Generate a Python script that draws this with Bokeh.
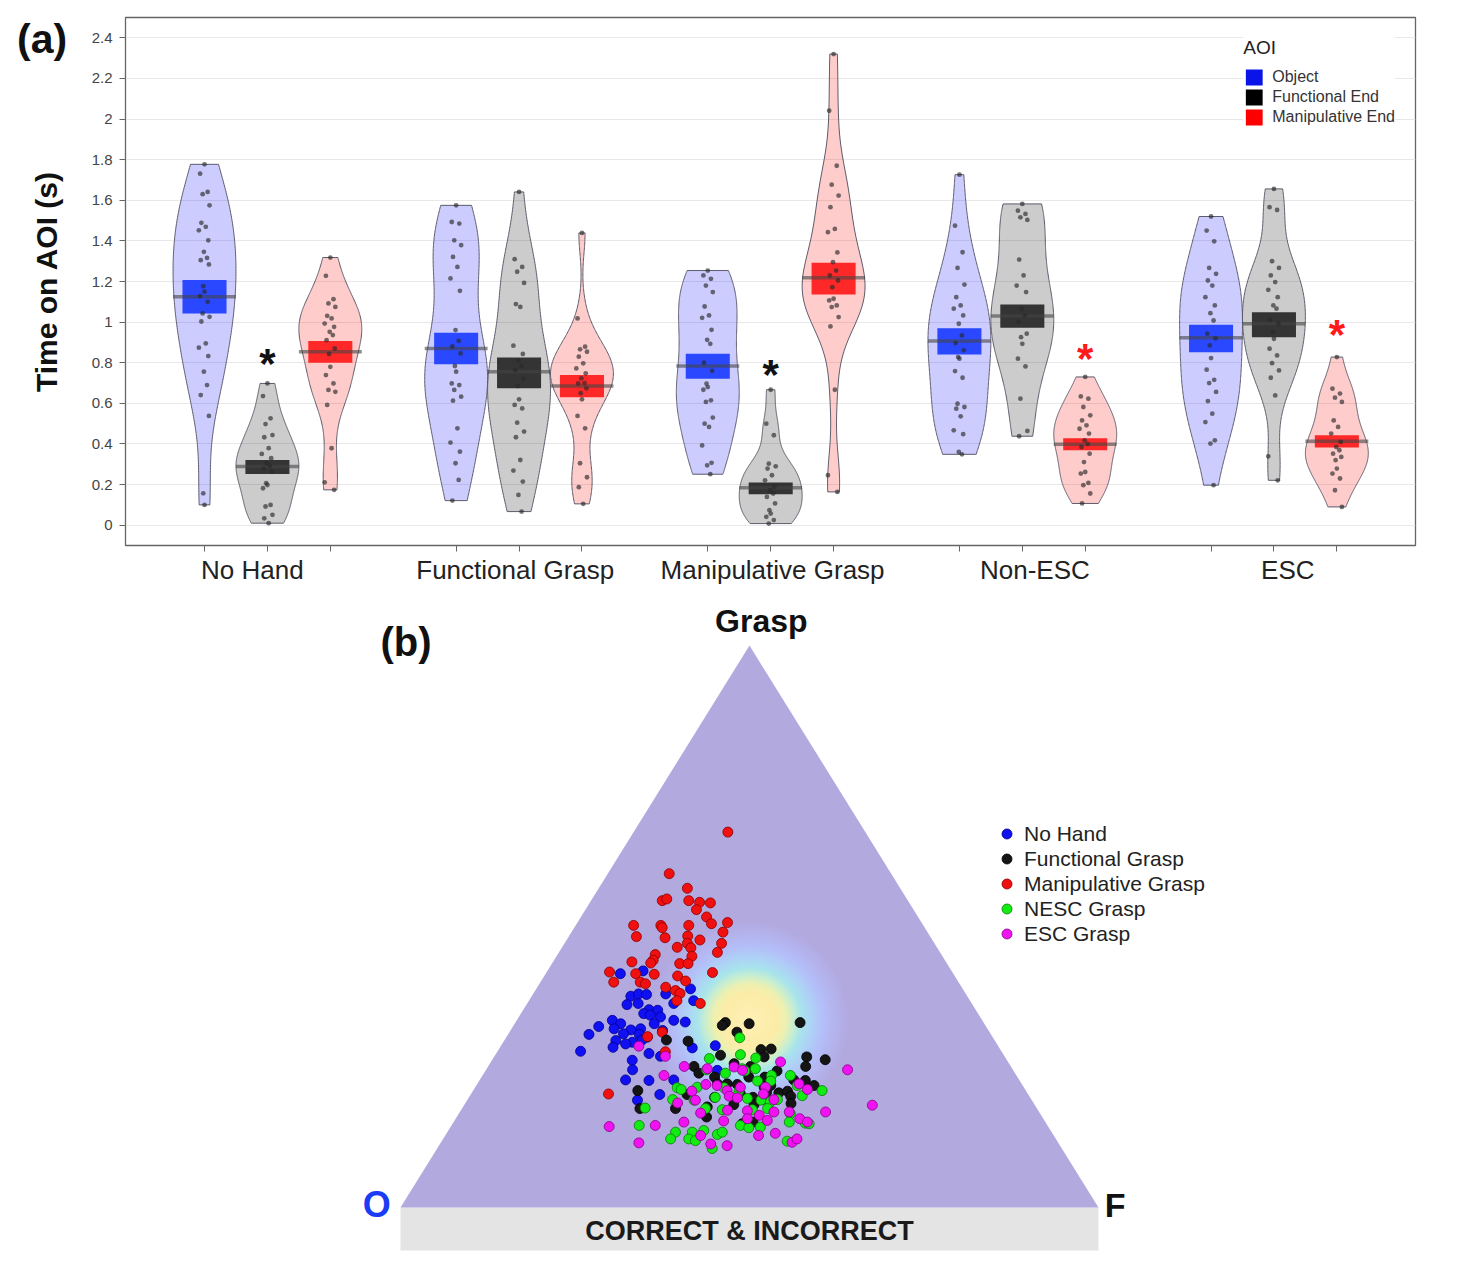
import numpy as np
from bokeh.plotting import figure
from bokeh.models import (Range1d, FixedTicker, CustomJSTickFormatter, Legend, LegendItem, Label, Div)
from bokeh.layouts import column
from bokeh.embed import file_html
from bokeh.resources import INLINE
from bokeh.core.properties import value

FONT = "Liberation Sans"

# ---------------- (a) data ----------------
groups = ["No Hand", "Functional Grasp", "Manipulative Grasp", "Non-ESC", "ESC"]
aois = ["Object", "Functional End", "Manipulative End"]
y_ticks = [0, 0.2, 0.4, 0.6, 0.8, 1.0, 1.2, 1.4, 1.6, 1.8, 2.0, 2.2, 2.4]

nohand_object = [1.777, 1.731, 1.641, 1.630, 1.575, 1.489, 1.469, 1.452, 1.403, 1.346, 1.316, 1.305, 1.284,
                 1.177, 1.150, 1.128, 1.100, 1.043, 1.026, 1.003, 0.895, 0.874, 0.833, 0.756, 0.690, 0.641,
                 0.538, 0.157, 0.100]
nohand_functional = [0.698, 0.636, 0.526, 0.498, 0.444, 0.433, 0.379, 0.351, 0.330, 0.305, 0.292, 0.280,
                     0.264, 0.207, 0.198, 0.182, 0.100, 0.092, 0.051, 0.034, 0.010]
nohand_manipulative = [1.318, 1.228, 1.113, 1.092, 1.075, 1.031, 1.018, 0.993, 0.977, 0.952, 0.936, 0.911,
                       0.870, 0.843, 0.780, 0.739, 0.698, 0.666, 0.657, 0.592, 0.379, 0.211, 0.174]
fgrasp_object = [1.575, 1.493, 1.485, 1.403, 1.379, 1.321, 1.272, 1.215, 1.154, 0.961, 0.908, 0.880, 0.846,
                 0.784, 0.756, 0.698, 0.690, 0.666, 0.633, 0.613, 0.477, 0.407, 0.362, 0.305, 0.223, 0.121]
fgrasp_functional = [1.641, 1.310, 1.272, 1.248, 1.193, 1.089, 1.075, 0.884, 0.843, 0.810, 0.784, 0.764,
                     0.720, 0.685, 0.620, 0.592, 0.575, 0.505, 0.461, 0.433, 0.321, 0.269, 0.215, 0.149, 0.067]
fgrasp_manipulative = [1.439, 1.018, 0.879, 0.866, 0.854, 0.830, 0.797, 0.772, 0.748, 0.723, 0.700, 0.698,
                       0.674, 0.650, 0.620, 0.538, 0.477, 0.305, 0.236, 0.187, 0.105]
mgrasp_object = [1.254, 1.230, 1.213, 1.180, 1.148, 1.077, 1.033, 1.021, 0.962, 0.913, 0.893, 0.800, 0.760,
                 0.697, 0.680, 0.667, 0.615, 0.607, 0.530, 0.500, 0.484, 0.393, 0.307, 0.295, 0.251]
mgrasp_functional = [0.667, 0.500, 0.443, 0.303, 0.290, 0.279, 0.246, 0.221, 0.189, 0.172, 0.156, 0.139,
                     0.107, 0.074, 0.057, 0.041, 0.025, 0.008]
mgrasp_manipulative = [2.320, 2.041, 1.770, 1.677, 1.623, 1.566, 1.459, 1.443, 1.343, 1.295, 1.254, 1.230,
                       1.205, 1.172, 1.115, 1.107, 1.082, 1.074, 1.025, 0.979, 0.667, 0.246, 0.164]
nonesc_object = [1.726, 1.475, 1.344, 1.267, 1.185, 1.123, 1.082, 1.066, 1.033, 0.992, 0.934, 0.897, 0.861,
                 0.828, 0.820, 0.759, 0.726, 0.598, 0.582, 0.574, 0.536, 0.467, 0.448, 0.361, 0.349]
nonesc_functional = [1.582, 1.549, 1.533, 1.516, 1.503, 1.308, 1.230, 1.180, 1.148, 1.066, 1.033, 1.000,
                     0.943, 0.926, 0.893, 0.820, 0.782, 0.623, 0.464, 0.438]
nonesc_manipulative = [0.730, 0.634, 0.623, 0.582, 0.541, 0.516, 0.492, 0.475, 0.451, 0.418, 0.400, 0.385,
                       0.352, 0.311, 0.262, 0.254, 0.208, 0.197, 0.156, 0.107]
esc_object = [1.520, 1.451, 1.398, 1.267, 1.238, 1.205, 1.180, 1.123, 1.082, 1.044, 1.008, 0.943, 0.920,
              0.885, 0.823, 0.766, 0.716, 0.700, 0.656, 0.611, 0.549, 0.508, 0.418, 0.402, 0.197]
esc_functional = [1.656, 1.566, 1.552, 1.300, 1.267, 1.230, 1.197, 1.159, 1.123, 1.082, 1.066, 1.011, 0.992,
                  0.951, 0.918, 0.869, 0.836, 0.798, 0.762, 0.726, 0.639, 0.339, 0.221]
esc_manipulative = [0.828, 0.672, 0.648, 0.628, 0.607, 0.516, 0.484, 0.451, 0.410, 0.385, 0.369, 0.352, 0.336,
                    0.320, 0.279, 0.254, 0.230, 0.172, 0.090]

times = [
    [nohand_object, nohand_functional, nohand_manipulative],
    [fgrasp_object, fgrasp_functional, fgrasp_manipulative],
    [mgrasp_object, mgrasp_functional, mgrasp_manipulative],
    [nonesc_object, nonesc_functional, nonesc_manipulative],
    [esc_object, esc_functional, esc_manipulative],
]

mean_time = [[1.125, 0.289, 0.854], [0.870, 0.756, 0.685], [0.784, 0.184, 1.218],
             [0.907, 1.030, 0.398], [0.923, 0.992, 0.413]]
se_low = [[1.043, 0.252, 0.800], [0.793, 0.674, 0.630], [0.721, 0.152, 1.136],
          [0.841, 0.972, 0.369], [0.852, 0.926, 0.382]]
se_high = [[1.207, 0.321, 0.907], [0.948, 0.826, 0.739], [0.844, 0.210, 1.292],
           [0.970, 1.087, 0.428], [0.987, 1.049, 0.443]]

star_group = ["No Hand", "Manipulative Grasp", "Non-ESC", "ESC"]
star_aoi = ["Functional End", "Functional End", "Manipulative End", "Manipulative End"]
star_level = [0.826, 0.772, 0.851, 0.969]
star_color = ["#111111", "#111111", "#ff1a1a", "#ff1a1a"]

# ---------------- (b) data: shares of Functional End (F) and Grasp (G) ----------------
tern_groups = ["No Hand", "Functional Grasp", "Manipulative Grasp", "NESC Grasp", "ESC Grasp"]
nohand_F = [0.107, 0.137, 0.221, 0.190, 0.142, 0.151, 0.163, 0.210, 0.236, 0.144, 0.159, 0.180, 0.193, 0.176,
            0.187, 0.203, 0.225, 0.243, 0.137, 0.152, 0.123, 0.147, 0.172, 0.185, 0.200, 0.165, 0.188, 0.202,
            0.218, 0.116, 0.160, 0.185, 0.197, 0.177, 0.119, 0.162, 0.219, 0.238, 0.276, 0.307, 0.201, 0.210,
            0.209, 0.243, 0.278, 0.271, 0.244, 0.332]
nohand_G = [0.416, 0.421, 0.389, 0.380, 0.376, 0.380, 0.379, 0.363, 0.368, 0.361, 0.363, 0.352, 0.351, 0.345,
            0.342, 0.339, 0.333, 0.330, 0.333, 0.327, 0.322, 0.318, 0.316, 0.318, 0.327, 0.309, 0.308, 0.303,
            0.315, 0.308, 0.297, 0.294, 0.298, 0.291, 0.278, 0.285, 0.274, 0.269, 0.284, 0.288, 0.262, 0.245,
            0.227, 0.226, 0.227, 0.201, 0.191, 0.244]
functional_F = [0.301, 0.299, 0.336, 0.326, 0.408, 0.232, 0.264, 0.323, 0.376, 0.390, 0.387, 0.448, 0.477,
                0.295, 0.308, 0.334, 0.350, 0.376, 0.406, 0.418, 0.455, 0.344, 0.358, 0.373, 0.383, 0.422,
                0.414, 0.450, 0.467, 0.484, 0.310, 0.352, 0.386, 0.407, 0.422, 0.440, 0.451, 0.460, 0.236,
                0.255, 0.306, 0.350, 0.386, 0.415, 0.422, 0.467, 0.358, 0.415, 0.429]
functional_G = [0.329, 0.324, 0.327, 0.312, 0.329, 0.298, 0.296, 0.271, 0.281, 0.282, 0.268, 0.268, 0.263,
                0.251, 0.239, 0.232, 0.256, 0.251, 0.232, 0.243, 0.251, 0.220, 0.220, 0.219, 0.232, 0.217,
                0.214, 0.227, 0.226, 0.217, 0.201, 0.196, 0.202, 0.196, 0.205, 0.204, 0.207, 0.198, 0.208,
                0.176, 0.176, 0.179, 0.183, 0.183, 0.192, 0.185, 0.161, 0.149, 0.152]
manipulative_F = [0.135, 0.088, 0.127, 0.102, 0.107, 0.140, 0.157, 0.173, 0.159, 0.180, 0.193, 0.215, 0.083,
                  0.122, 0.126, 0.162, 0.097, 0.139, 0.170, 0.191, 0.217, 0.176, 0.165, 0.185, 0.225, 0.140,
                  0.194, 0.227, 0.113, 0.142, 0.141, 0.183, 0.195, 0.090, 0.129, 0.156, 0.238, 0.105, 0.143,
                  0.152, 0.191, 0.207, 0.184, 0.201, 0.210, 0.212, 0.248, 0.219, 0.202, 0.241, 0.197]
manipulative_G = [0.668, 0.594, 0.568, 0.546, 0.549, 0.546, 0.543, 0.542, 0.530, 0.517, 0.505, 0.507, 0.502,
                  0.502, 0.498, 0.502, 0.482, 0.480, 0.483, 0.476, 0.490, 0.470, 0.463, 0.462, 0.470, 0.450,
                  0.447, 0.454, 0.437, 0.440, 0.435, 0.434, 0.434, 0.419, 0.416, 0.415, 0.418, 0.401, 0.401,
                  0.398, 0.412, 0.403, 0.392, 0.386, 0.381, 0.368, 0.363, 0.312, 0.304, 0.277, 0.202]
nesc_F = [0.335, 0.351, 0.310, 0.376, 0.366, 0.372, 0.316, 0.346, 0.385, 0.414, 0.441, 0.290, 0.297, 0.318,
          0.357, 0.381, 0.399, 0.418, 0.460, 0.476, 0.500, 0.294, 0.325, 0.353, 0.383, 0.400, 0.421, 0.436,
          0.444, 0.262, 0.349, 0.374, 0.417, 0.438, 0.475, 0.269, 0.327, 0.351, 0.352, 0.366, 0.389, 0.394,
          0.414, 0.428, 0.444, 0.481, 0.505, 0.511, 0.326, 0.363, 0.394, 0.495]
nesc_G = [0.302, 0.272, 0.265, 0.266, 0.247, 0.243, 0.245, 0.239, 0.247, 0.235, 0.235, 0.213, 0.210, 0.214,
          0.213, 0.208, 0.225, 0.225, 0.217, 0.199, 0.208, 0.192, 0.191, 0.196, 0.199, 0.194, 0.191, 0.188,
          0.192, 0.177, 0.176, 0.174, 0.174, 0.176, 0.167, 0.146, 0.134, 0.134, 0.122, 0.137, 0.130, 0.134,
          0.146, 0.142, 0.143, 0.152, 0.150, 0.149, 0.122, 0.119, 0.105, 0.118]
esc_F = [0.198, 0.245, 0.281, 0.316, 0.353, 0.368, 0.415, 0.518, 0.260, 0.328, 0.345, 0.364, 0.380, 0.416,
         0.461, 0.478, 0.314, 0.304, 0.327, 0.372, 0.385, 0.419, 0.439, 0.346, 0.382, 0.411, 0.432, 0.450,
         0.472, 0.524, 0.585, 0.227, 0.292, 0.330, 0.386, 0.418, 0.448, 0.493, 0.507, 0.284, 0.366, 0.388,
         0.413, 0.449, 0.471, 0.503, 0.507]
esc_G = [0.287, 0.269, 0.251, 0.247, 0.250, 0.244, 0.259, 0.245, 0.235, 0.219, 0.217, 0.208, 0.214, 0.214,
         0.220, 0.210, 0.207, 0.186, 0.191, 0.198, 0.195, 0.202, 0.192, 0.168, 0.173, 0.172, 0.164, 0.170,
         0.170, 0.170, 0.182, 0.144, 0.146, 0.152, 0.154, 0.158, 0.155, 0.158, 0.152, 0.115, 0.128, 0.113,
         0.110, 0.128, 0.132, 0.116, 0.122]

# triangle vertices (O, F, Grasp) as shares and the neutral (centroid) point
vertex_F = [0.0, 1.0, 0.0]
vertex_G = [0.0, 0.0, 1.0]
neutral_F, neutral_G = 1 / 3, 1 / 3

# ================= Figure (a) =================
violin_fill = ["#0000ff", "#000000", "#ff0000"]
box_fill = ["#2040ff", "#2b2b2b", "#ff1f1f"]
legend_fill = ["#0a14e8", "#000000", "#ff0000"]
STEP = 4  # slots per group (3 violins + gap)
label_shift = [-0.24, -0.06, 0.03, 0.2, 0.22]  # group label placement relative to the middle violin

def pos(gi, ai):
    return STEP * gi + ai

W = 1465
pA = figure(width=W, height=600, x_range=Range1d(-1.256, 19.25), y_range=Range1d(-0.1, 2.5),
            output_backend="svg", toolbar_location=None, title=None,
            min_border_left=125, min_border_right=W - 1415, min_border_top=17, min_border_bottom=55)
pA.background_fill_color = "white"
pA.outline_line_color = "#666666"
pA.outline_line_width = 1.3
pA.xgrid.visible = False
pA.ygrid.grid_line_color = "#e8e8e8"
pA.ygrid.grid_line_width = 1

def kde_outline(vals, center, half=0.5):
    v = np.asarray(vals, dtype=float)
    n = len(v)
    sd = v.std(ddof=1)
    q75, q25 = np.percentile(v, [75, 25])
    spread = min(sd, (q75 - q25) / 1.34) if q75 > q25 else sd
    bw = 0.9 * spread * n ** -0.2
    ys = np.linspace(v.min(), v.max(), 220)
    d = np.exp(-0.5 * ((ys[:, None] - v[None, :]) / bw) ** 2).sum(axis=1)
    d = d / d.max() * half
    xs = np.concatenate([center - d, (center + d)[::-1]])
    yy = np.concatenate([ys, ys[::-1]])
    return list(xs), list(yy)

jitter = [0.0, -0.07, 0.05, -0.03, 0.08, -0.05, 0.02, -0.09, 0.06, -0.01, 0.04, -0.06, 0.07, -0.02]

for ai in range(3):
    vx, vy = [], []
    for gi in range(len(groups)):
        xs, ys = kde_outline(times[gi][ai], pos(gi, ai))
        vx.append(xs); vy.append(ys)
    pA.patches(vx, vy, fill_color=violin_fill[ai], fill_alpha=0.2, line_color="#5b5b6b", line_width=1)

for ai in range(3):
    cx = [pos(gi, ai) for gi in range(len(groups))]
    pA.quad(left=[c - 0.35 for c in cx], right=[c + 0.35 for c in cx],
            bottom=[se_low[gi][ai] for gi in range(len(groups))],
            top=[se_high[gi][ai] for gi in range(len(groups))],
            fill_color=box_fill[ai], fill_alpha=0.95, line_color=None)
    pA.segment(x0=[c - 0.5 for c in cx], x1=[c + 0.5 for c in cx],
               y0=[mean_time[gi][ai] for gi in range(len(groups))],
               y1=[mean_time[gi][ai] for gi in range(len(groups))],
               line_color="#444444", line_alpha=0.6, line_width=3.5)

px, py = [], []
for gi in range(len(groups)):
    for ai in range(3):
        for k, t in enumerate(times[gi][ai]):
            px.append(pos(gi, ai) + jitter[k % len(jitter)])
            py.append(t)
pA.scatter(px, py, size=4.8, fill_color="#2a2a2a", fill_alpha=0.65, line_color=None)

sx = [pos(groups.index(g), aois.index(a)) for g, a in zip(star_group, star_aoi)]
pA.text(x=sx, y=star_level, text=["*"] * len(sx), text_color=star_color,
        text_font=value(FONT), text_font_size=value("42px"), text_font_style="bold",
        text_align="center", text_baseline="middle", y_offset=6)

# legend swatches (not drawn in the plot area)
nan = float("nan")
leg_items = []
for ai, a in enumerate(aois):
    r = pA.quad(left=[nan], right=[nan], top=[nan], bottom=[nan], fill_color=legend_fill[ai], line_color=None)
    leg_items.append(LegendItem(label=a, renderers=[r]))
legA = Legend(items=leg_items, location="top_right", margin=20, padding=8,
              title="AOI", title_text_font=FONT, title_text_font_size="19px",
              title_text_font_style="normal", title_text_color="#222222", title_standoff=8,
              label_text_font=FONT, label_text_font_size="16px", label_text_color="#333333",
              glyph_width=21, glyph_height=20, label_height=20, spacing=0, label_standoff=8,
              border_line_color=None, background_fill_color="white", background_fill_alpha=1)
pA.add_layout(legA)

all_pos = [pos(gi, ai) for gi in range(len(groups)) for ai in range(3)]
label_pos = [pos(gi, 1) + label_shift[gi] for gi in range(len(groups))]
pA.xaxis.ticker = FixedTicker(ticks=label_pos, minor_ticks=all_pos)
pA.xaxis.formatter = CustomJSTickFormatter(args=dict(names=groups), code="""
    return names[Math.round((tick - 1) / 4)];
""")
pA.xaxis.major_label_text_font = FONT
pA.xaxis.major_label_text_font_size = "26px"
pA.xaxis.major_label_text_color = "#222222"
pA.xaxis.major_label_standoff = 3
pA.xaxis.major_tick_out = 0
pA.xaxis.major_tick_in = 0
pA.xaxis.minor_tick_out = 6
pA.xaxis.minor_tick_in = 0
pA.xaxis.axis_line_color = "#666666"
pA.xaxis.minor_tick_line_color = "#666666"

pA.yaxis.ticker = FixedTicker(ticks=y_ticks)
pA.yaxis.formatter = CustomJSTickFormatter(code="return String(Math.round(tick * 10) / 10);")
pA.yaxis.major_label_text_font = FONT
pA.yaxis.major_label_text_font_size = "15px"
pA.yaxis.major_label_text_color = "#444444"
pA.yaxis.major_label_standoff = 7
pA.yaxis.major_tick_out = 6
pA.yaxis.major_tick_in = 0
pA.yaxis.minor_tick_out = 0
pA.yaxis.axis_line_color = "#666666"
pA.yaxis.major_tick_line_color = "#666666"
pA.yaxis.axis_label = "Time on AOI (s)"
pA.yaxis.axis_label_text_font = FONT
pA.yaxis.axis_label_text_font_size = "30px"
pA.yaxis.axis_label_text_font_style = "bold"
pA.yaxis.axis_label_text_color = "#111111"
pA.yaxis.axis_label_standoff = 26

# panel tag "(a)" sits outside the plot frame, so it is an HTML element laid over the page corner
tag_a = Div(text="(a)", width=60, height=50,
            styles={"position": "absolute", "left": "17px", "top": "16px", "z-index": "10",
                    "font-family": FONT, "font-size": "41px", "font-weight": "bold",
                    "color": "#111111", "line-height": "normal", "margin": "0"})

# ================= Figure (b) =================
pB = figure(width=W, height=666, x_range=Range1d(-0.394, 1.4542), y_range=Range1d(-0.1050, 1.0801),
            output_backend="svg", toolbar_location=None, title=None,
            x_axis_type=None, y_axis_type=None,
            min_border_left=125, min_border_right=W - 1415, min_border_top=0, min_border_bottom=0)
pB.outline_line_color = None
pB.background_fill_color = "white"

def tern_xy(F, G):
    F = np.asarray(F, dtype=float); G = np.asarray(G, dtype=float)
    return F + G / 2.0, G

tx, ty = tern_xy(vertex_F, vertex_G)
# base band
pB.quad(left=[tx[0]], right=[tx[1]], top=[ty[0]], bottom=[ty[0] - 0.0765],
        fill_color="#e4e4e4", line_color=None)
pB.patch(list(tx), list(ty), fill_color="#b2a9df", line_color=None)

# glow around the neutral point
stops_r = [100, 88, 75, 63, 53, 45, 37, 27, 0]
stops_c = [(178, 169, 223), (180, 178, 236), (180, 190, 248), (174, 210, 246), (168, 228, 236),
           (200, 238, 208), (238, 240, 176), (252, 236, 168), (255, 240, 182)]
radii = np.linspace(100, 1, 80)
glow_cols = []
for r in radii:
    for k in range(len(stops_r) - 1):
        if stops_r[k] >= r >= stops_r[k + 1]:
            t = (stops_r[k] - r) / (stops_r[k] - stops_r[k + 1])
            c = [int(round(stops_c[k][j] + t * (stops_c[k + 1][j] - stops_c[k][j]))) for j in range(3)]
            glow_cols.append("#%02x%02x%02x" % tuple(c))
            break
gx, gy = tern_xy([neutral_F], [neutral_G])
pB.scatter(x=[gx[0]] * len(radii), y=[gy[0]] * len(radii), size=list(2 * radii),
           fill_color=glow_cols, line_color=None)

tern_data = {
    "No Hand": (nohand_F, nohand_G, "#1010f2", "#00008a"),
    "Functional Grasp": (functional_F, functional_G, "#151515", "#000000"),
    "Manipulative Grasp": (manipulative_F, manipulative_G, "#f01010", "#8a0000"),
    "NESC Grasp": (nesc_F, nesc_G, "#12ec12", "#087a08"),
    "ESC Grasp": (esc_F, esc_G, "#f012f0", "#850085"),
}
draw_order = ["No Hand", "Manipulative Grasp", "Functional Grasp", "NESC Grasp", "ESC Grasp"]
rend = {}
for name in draw_order:
    F, G, col, edge = tern_data[name]
    x, y = tern_xy(F, G)
    rend[name] = pB.scatter(x=list(x), y=list(y), size=10, fill_color=col, line_color=edge,
                            line_width=0.8)

legB = Legend(items=[LegendItem(label=n, renderers=[rend[n]]) for n in tern_groups],
              location=(869, 320), glyph_width=25, glyph_height=25, label_height=25, spacing=0,
              padding=5, label_standoff=5, label_text_font=FONT, label_text_font_size="21px",
              label_text_color="#222222", border_line_color=None, background_fill_alpha=0)
pB.add_layout(legB)

def blabel(x, y, text, size, color="#111111", align="center"):
    pB.add_layout(Label(x=x, y=y, text=text, text_font=FONT, text_font_size=size,
                        text_font_style="bold", text_color=color, text_align=align,
                        text_baseline="middle"))

blabel(0.517, 1.043, "Grasp", "32px")
blabel(-0.0287, 1.006, "(b)", "40px", align="left")
blabel(-0.034, 0.005, "O", "36px", color="#1a3cf5")
blabel(1.024, 0.005, "F", "34px")
blabel(0.5, -0.041, "CORRECT & INCORRECT", "27px", color="#1a1a1a")

layout = column(tag_a, pA, pB, spacing=0)
open("out.html", "w").write(file_html(layout, INLINE))
